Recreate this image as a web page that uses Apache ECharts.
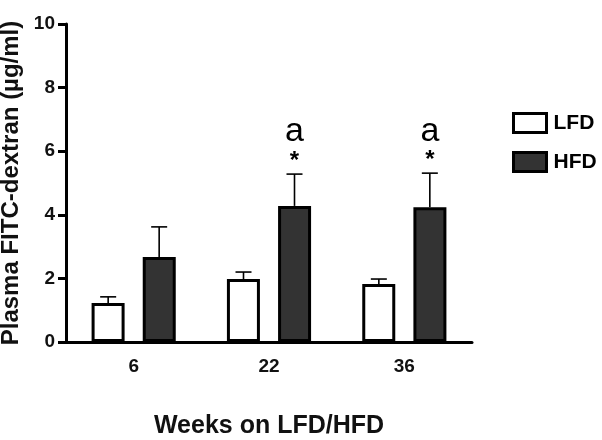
<!DOCTYPE html>
<html lang="en">
<head>
    <meta charset="UTF-8">
    <title>Plasma FITC-dextran</title>
    <style>
        html, body { margin: 0; padding: 0; background: #fff; }
        #container { width: 602px; height: 440px; }
    </style>
</head>
<body>
<div id="container"></div>
<script src="https://cdn.jsdelivr.net/npm/echarts@6/dist/echarts.min.js"></script>
<script>
    // data
    var weeks = ['6', '22', '36'];
    var lfd = [1.23, 1.98, 1.82];
    var lfdErr = [0.19, 0.22, 0.16];
    var hfd = [2.67, 4.28, 4.24];
    var hfdErr = [0.95, 1.0, 1.07];
    var stars = ['', '*', '*'];
    var letters = ['', 'a', 'a'];
    var yTicks = [0, 2, 4, 6, 8, 10];

    var font = 'Liberation Sans, Arial, sans-serif';
    var barW = 33;
    var pairOffset = 25.5; // half distance between LFD and HFD bar centres

    function errorSeries(name, means, errs, side, withMarks) {
        var data = means.map(function (m, i) {
            return [i, m, m + errs[i]];
        });
        return {
            name: name + ' err',
            type: 'custom',
            z: 5,
            data: data,
            renderItem: function (params, api) {
                var i = api.value(0);
                var base = api.coord([i, api.value(1)]);
                var top = api.coord([i, api.value(2)]);
                var x = base[0] + side * pairOffset;
                var children = [
                    {type: 'line', shape: {x1: x, y1: base[1], x2: x, y2: top[1]},
                        style: {stroke: '#000', lineWidth: 1.6}},
                    {type: 'line', shape: {x1: x - 8, y1: top[1], x2: x + 8, y2: top[1]},
                        style: {stroke: '#000', lineWidth: 1.6}}
                ];
                if (withMarks) {
                    if (stars[i]) {
                        children.push({type: 'text', style: {
                            text: stars[i], x: x, y: top[1] - 1,
                            align: 'center', verticalAlign: 'bottom',
                            font: 'bold 24px ' + font, fill: '#000'}});
                    }
                    if (letters[i]) {
                        children.push({type: 'text', style: {
                            text: letters[i], x: x, y: top[1] - 25,
                            align: 'center', verticalAlign: 'bottom',
                            font: '34px ' + font, fill: '#000'}});
                    }
                }
                return {type: 'group', children: children};
            }
        };
    }

    var dom = document.getElementById('container');
    var myChart = echarts.init(dom, null, {renderer: 'canvas'});

    var option = {
        animation: false,
        textStyle: {fontFamily: font},
        grid: {left: 66, right: 130, top: 24, bottom: 98, outerBoundsMode: 'none', containLabel: false},
        legend: {
            orient: 'vertical',
            left: 507,
            top: 107,
            itemWidth: 33,
            itemHeight: 19,
            itemGap: 17,
            icon: 'rect',
            data: ['LFD', 'HFD'],
            itemStyle: {borderColor: '#000', borderWidth: 3},
            textStyle: {fontFamily: font, fontSize: 21, fontWeight: 'bold', color: '#000', padding: [0, 0, 0, 2]}
        },
        xAxis: {
            type: 'category',
            data: weeks,
            name: 'Weeks on LFD/HFD',
            nameLocation: 'middle',
            nameGap: 72,
            nameTextStyle: {fontFamily: font, fontSize: 25, fontWeight: 'bold', color: '#111'},
            axisLine: {lineStyle: {color: '#000', width: 3}},
            axisTick: {show: false},
            axisLabel: {fontFamily: font, fontSize: 19, fontWeight: 'bold', color: '#111', margin: 15}
        },
        yAxis: {
            type: 'value',
            min: yTicks[0],
            max: yTicks[yTicks.length - 1],
            interval: 2,
            name: 'Plasma FITC-dextran (\u00b5g/ml)',
            nameLocation: 'middle',
            nameRotate: 90,
            nameGap: 34,
            nameTextStyle: {fontFamily: font, fontSize: 24, fontWeight: 'bold', color: '#111'},
            axisLine: {show: true, lineStyle: {color: '#000', width: 3}},
            axisTick: {show: true, length: 8, lineStyle: {color: '#000', width: 3}},
            axisLabel: {fontFamily: font, fontSize: 19, fontWeight: 'bold', color: '#111', margin: 11},
            splitLine: {show: false}
        },
        series: [
            {
                name: 'LFD',
                type: 'bar',
                data: lfd,
                barWidth: barW,
                barGap: '55%',
                z: 4,
                itemStyle: {color: '#fff', borderColor: '#000', borderWidth: 3}
            },
            {
                name: 'HFD',
                type: 'bar',
                data: hfd,
                barWidth: barW,
                barGap: '55%',
                z: 4,
                itemStyle: {color: '#333', borderColor: '#000', borderWidth: 3}
            },
            errorSeries('LFD', lfd, lfdErr, -1, false),
            errorSeries('HFD', hfd, hfdErr, 1, true)
        ]
    };

    myChart.setOption(option);
</script>
</body>
</html>
